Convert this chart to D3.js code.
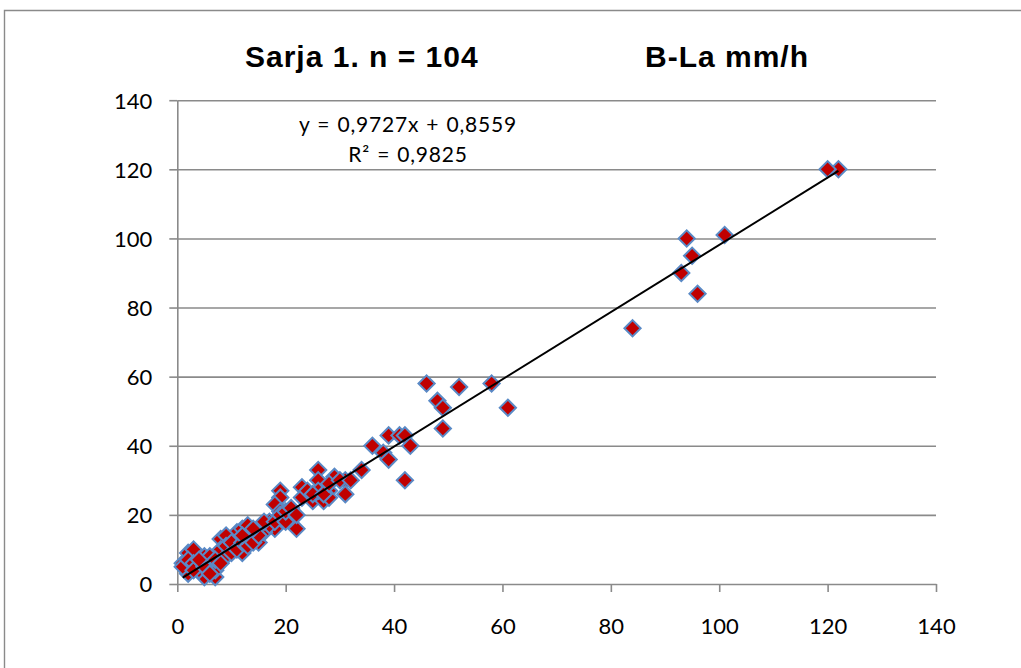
<!DOCTYPE html>
<html>
<head>
<meta charset="utf-8">
<script src="https://cdn.jsdelivr.net/npm/d3@7"></script>
<style>
    body { margin: 0; background: #fff; }
    .tick text { font-family: Lato, "Liberation Sans", sans-serif; font-size: 22px; fill: #000; }
    .title { font-family: "Liberation Sans", Arial, sans-serif; font-weight: bold; font-size: 30px; letter-spacing: 1px; }
    .eq { font-family: Lato, sans-serif; font-size: 21px; letter-spacing: 0.8px; word-spacing: 1px; }
</style>
</head>
<body>
<div class="chart"></div>
<script>
"use strict"

// data (x, y pairs)
const xValues = [122, 120, 101, 94, 95, 93, 96, 84,
    46, 52, 58, 61, 48, 49, 49, 39, 41, 42, 43, 36, 38, 39, 42, 34,
    26, 26, 29, 31, 31, 23, 24, 25, 28, 27, 28, 26, 19, 19, 18, 19, 17, 22, 18, 13,
    1, 2, 3, 2, 5, 5, 7, 4, 6, 8, 8, 9, 11, 11, 12, 13, 12, 13, 15, 16, 17, 10, 9, 7, 4, 6,
    1, 2, 3, 3, 5, 6, 7, 8, 9, 10, 10, 11, 12, 13, 14, 14, 15, 16, 18, 19, 20, 20, 21, 22,
    23, 24, 25, 27, 28, 30, 32, 14, 4, 12];
const yValues = [120, 120, 101, 100, 95, 90, 84, 74,
    58, 57, 58, 51, 53, 51, 45, 43, 43, 43, 40, 40, 38, 36, 30, 33,
    33, 30, 31, 30, 26, 28, 26, 24, 27, 24, 25, 27, 27, 25, 23, 21, 18, 16, 16, 16,
    6, 9, 10, 3, 8, 2, 2, 5, 6, 13, 10, 8, 15, 12, 16, 17, 9, 13, 12, 15, 17, 10, 14, 4, 4, 8,
    5, 7, 6, 4, 5, 3, 7, 6, 11, 9, 12, 10, 12, 11, 14, 12, 14, 18, 18, 20, 18, 21, 22, 20,
    25, 27, 26, 26, 29, 30, 30, 16, 7, 14];

const xTicks = [0, 20, 40, 60, 80, 100, 120, 140];
const yTicks = [0, 20, 40, 60, 80, 100, 120, 140];

const slope = 0.9727,
    intercept = 0.8559;
const titleLeft = "Sarja 1. n = 104",
    titleRight = "B-La mm/h",
    eqText = "y = 0,9727x + 0,8559",
    r2Text = "R² = 0,9825";

const points = xValues.map((d, i) => ({ x: d, y: yValues[i] }));

let width = 1021,
    height = 668;
let plotLeft = 177.3,
    plotRight = 936,
    plotTop = 100.2,
    plotBottom = 584;

const svg = d3.select("div.chart").append("svg")
    .attr("width", width)
    .attr("height", height);

// chart area border (only top and left edges show)
svg.append("path")
    .attr("d", "M4.5,668 L4.5,10.5 L1021,10.5")
    .attr("fill", "none")
    .attr("stroke", "#8a8a8a")
    .attr("stroke-width", 1.4);

const scaleX = d3.scaleLinear()
    .domain([0, 140])
    .range([plotLeft, plotRight]);

const scaleY = d3.scaleLinear()
    .domain([0, 140])
    .range([plotBottom, plotTop]);

// horizontal grid lines
svg.append("g")
    .attr("class", "grid")
    .attr("transform", "translate(" + plotLeft + ",0)")
    .call(d3.axisLeft(scaleY).tickValues(yTicks.slice(1)).tickSize(-(plotRight - plotLeft)).tickFormat(""))
    .call(g => g.select(".domain").remove())
    .call(g => g.selectAll("line").attr("stroke", "#8a8a8a").attr("stroke-width", 1.6));

// y axis
svg.append("g")
    .attr("class", "y-axis")
    .attr("transform", "translate(" + plotLeft + ",0)")
    .call(d3.axisLeft(scaleY).tickValues(yTicks).tickSize(8).tickSizeOuter(0).tickPadding(17))
    .call(g => g.select(".domain").attr("stroke", "#8a8a8a").attr("stroke-width", 1.6))
    .call(g => g.selectAll("line").attr("stroke", "#8a8a8a").attr("stroke-width", 1.6))
    .call(g => g.selectAll("text").attr("dy", "0.36em"));

// x axis
svg.append("g")
    .attr("class", "x-axis")
    .attr("transform", "translate(0," + plotBottom + ")")
    .call(d3.axisBottom(scaleX).tickValues(xTicks).tickSize(8).tickSizeOuter(0).tickPadding(26))
    .call(g => g.select(".domain").attr("stroke", "#8a8a8a").attr("stroke-width", 1.6))
    .call(g => g.selectAll("line").attr("stroke", "#8a8a8a").attr("stroke-width", 1.6))
    .call(g => g.selectAll("text").attr("dy", "0.71em"));

// markers
const diamond = d3.symbol().type(d3.symbolSquare).size(132);
svg.append("g")
    .selectAll("path.dot")
    .data(points)
    .join("path")
    .attr("class", "dot")
    .attr("d", diamond)
    .attr("transform", d => "translate(" + scaleX(d.x) + "," + scaleY(d.y) + ") rotate(45)")
    .attr("fill", "#c00000")
    .attr("stroke", "#5a8ac6")
    .attr("stroke-width", 2);

// linear trendline over data range
const xr = d3.extent(xValues);
svg.append("line")
    .attr("x1", scaleX(xr[0]))
    .attr("y1", scaleY(slope * xr[0] + intercept))
    .attr("x2", scaleX(xr[1]))
    .attr("y2", scaleY(slope * xr[1] + intercept))
    .attr("stroke", "#000")
    .attr("stroke-width", 2);

// titles
svg.append("text")
    .attr("class", "title")
    .attr("x", 245)
    .attr("y", 67)
    .text(titleLeft);
svg.append("text")
    .attr("class", "title")
    .attr("x", 645)
    .attr("y", 67)
    .text(titleRight);

// equation label
svg.append("text")
    .attr("class", "eq")
    .attr("x", 408)
    .attr("y", 132)
    .attr("text-anchor", "middle")
    .text(eqText);
svg.append("text")
    .attr("class", "eq")
    .attr("x", 408)
    .attr("y", 162)
    .attr("text-anchor", "middle")
    .text(r2Text);
</script>
</body>
</html>
